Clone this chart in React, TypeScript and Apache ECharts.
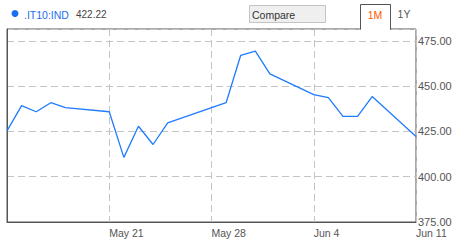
import React, { useEffect, useRef } from "react";
import * as echarts from "echarts";

const dates = [
  "2012-05-14", "2012-05-15", "2012-05-16", "2012-05-17", "2012-05-18",
  "2012-05-21", "2012-05-22", "2012-05-23", "2012-05-24", "2012-05-25",
  "2012-05-29", "2012-05-30", "2012-05-31", "2012-06-01",
  "2012-06-04", "2012-06-05", "2012-06-06", "2012-06-07", "2012-06-08",
  "2012-06-11",
];
const values = [
  425.3, 439.3, 435.9, 440.9, 438.2,
  435.9, 410.7, 427.9, 417.8, 429.8,
  440.9, 467.1, 469.4, 456.8,
  445.4, 443.7, 433.3, 433.3, 444.3,
  422.22,
];
const startDate = "2012-05-14";
const endDate = "2012-06-11";
const yTicks = [375, 400, 425, 450, 475];
const yMax = 481.6;
const tickerName = ".IT10:IND";
const lastValue = "422.22";
const monthNames = ["Jan", "Feb", "Mar", "Apr", "May", "Jun", "Jul", "Aug", "Sep", "Oct", "Nov", "Dec"];

const DAY = 86400000;
const t0 = Date.parse(startDate + "T00:00:00Z");
const dayOffset = (d: string) => Math.round((Date.parse(d + "T00:00:00Z") - t0) / DAY);
const totalDays = dayOffset(endDate);
const fmtDay = (off: number) => {
  const d = new Date(t0 + off * DAY);
  return monthNames[d.getUTCMonth()] + " " + d.getUTCDate();
};

const FONT = "'Liberation Sans', Arial, sans-serif";

export default function App() {
  const ref = useRef<HTMLDivElement>(null);
  useEffect(() => {
    if (!ref.current) return;
    const chart = echarts.init(ref.current, undefined, { renderer: "svg" });
    chart.setOption({
      animation: false,
      backgroundColor: "#ffffff",
      grid: {
        left: 7,
        right: 51,
        top: 29,
        bottom: 20,
        show: true,
        borderColor: "#555555",
        borderWidth: 1,
      },
      xAxis: {
        type: "value",
        min: 0,
        max: totalDays,
        interval: 7,
        axisLine: { show: true, lineStyle: { color: "#555555" } },
        axisTick: { show: false },
        splitLine: { show: true, lineStyle: { color: "#c4c4c4", type: [7, 4], width: 1 } },
        axisLabel: {
          align: "left",
          margin: 5,
          color: "#555555",
          fontFamily: FONT,
          fontSize: 10.5,
          showMinLabel: false,
          formatter: (v: number) => (v === 0 ? "" : fmtDay(v)),
        },
      },
      yAxis: {
        type: "value",
        position: "right",
        min: yTicks[0],
        max: yMax,
        interval: 25,
        axisLine: { show: true, lineStyle: { color: "#555555" } },
        axisTick: { show: false },
        splitLine: { show: true, lineStyle: { color: "#c4c4c4", type: [7, 4], width: 1 } },
        axisLabel: {
          margin: 2,
          color: "#555555",
          fontFamily: FONT,
          fontSize: 11,
          padding: [5, 0, 0, 0],
          showMaxLabel: false,
          formatter: (v: number) => (yTicks.includes(v) ? v.toFixed(2) : ""),
        },
      },
      series: [
        {
          type: "line",
          data: dates.map((d, i) => [dayOffset(d), values[i]]),
          showSymbol: false,
          symbol: "none",
          lineStyle: { color: "#1f7bff", width: 1.3 },
        },
      ],
      graphic: [
        { type: "circle", shape: { cx: 15, cy: 13.5, r: 3.5 }, style: { fill: "#1a6ff0" } },
        {
          type: "text",
          x: 24,
          y: 14.5,
          style: { text: tickerName, fill: "#1a6ff0", font: `10.5px ${FONT}`, verticalAlign: "middle" },
        },
        {
          type: "text",
          x: 76,
          y: 14.5,
          style: { text: lastValue, fill: "#444444", font: `10px ${FONT}`, verticalAlign: "middle" },
        },
        {
          type: "rect",
          shape: { x: 249.5, y: 5.5, width: 76, height: 17 },
          style: { fill: "#efefef", stroke: "#c4c4c4", lineWidth: 1 },
        },
        {
          type: "text",
          x: 252,
          y: 14.5,
          style: { text: "Compare", fill: "#333333", font: `10.5px ${FONT}`, verticalAlign: "middle" },
        },
        {
          type: "rect",
          shape: { x: 361, y: 27, width: 29, height: 4 },
          style: { fill: "#ffffff" },
          z: 100,
        },
        {
          type: "polyline",
          shape: { points: [[360.5, 29.5], [360.5, 4.5], [390.5, 4.5], [390.5, 29.5]] },
          style: { stroke: "#555555", lineWidth: 1, fill: "none" },
          z: 101,
        },
        {
          type: "text",
          x: 375,
          y: 15,
          style: { text: "1M", fill: "#ff5a00", font: `10.5px ${FONT}`, align: "center", verticalAlign: "middle" },
          z: 101,
        },
        {
          type: "text",
          x: 404,
          y: 14,
          style: { text: "1Y", fill: "#555555", font: `10.5px ${FONT}`, align: "center", verticalAlign: "middle" },
        },
      ],
    });
    return () => chart.dispose();
  }, []);
  return <div ref={ref} style={{ width: 467, height: 242, position: "fixed", left: 0, top: 0 }} />;
}
